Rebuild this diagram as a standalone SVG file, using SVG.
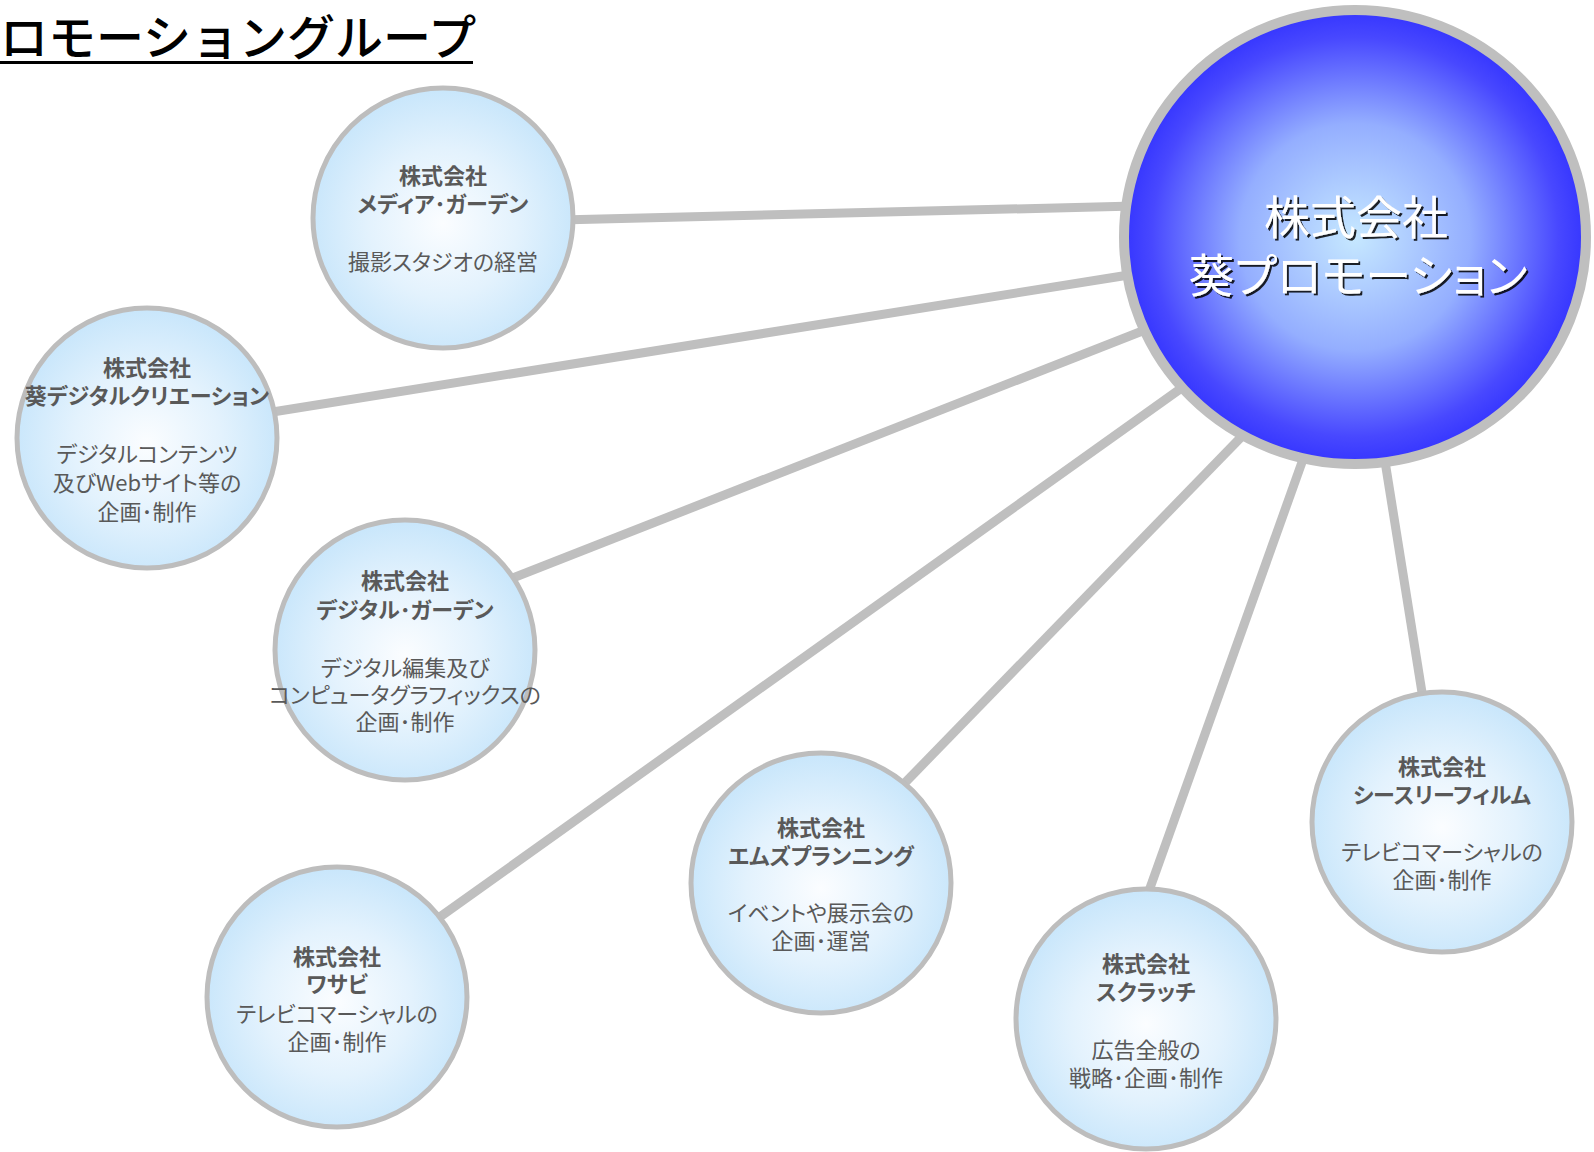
<svg xmlns="http://www.w3.org/2000/svg" width="1594" height="1152" viewBox="0 0 1594 1152">
<defs>
<radialGradient id="gMain" cx="50%" cy="50%" r="50%">
<stop offset="0" stop-color="#c6e8ff"/>
<stop offset="0.5" stop-color="#94aeff"/>
<stop offset="0.88" stop-color="#4848ff"/>
<stop offset="1" stop-color="#3535ff"/>
</radialGradient>
<radialGradient id="gSub" cx="50%" cy="52%" r="52%">
<stop offset="0" stop-color="#fbfdff"/>
<stop offset="0.55" stop-color="#e3f2fd"/>
<stop offset="1" stop-color="#c8e6fb"/>
</radialGradient>
<filter id="shadow" x="-10%" y="-20%" width="120%" height="140%">
<feDropShadow dx="2" dy="2" stdDeviation="0.6" flood-color="#000" flood-opacity="0.85"/>
</filter>
</defs>
<style>
.conn line{stroke:#bfbfbf;stroke-width:9;stroke-linecap:butt}
.sub{fill:url(#gSub);stroke:#bdbdbd;stroke-width:5}
.name{font-family:"Noto Sans CJK JP","Noto Sans",sans-serif;font-size:22px;font-weight:bold;fill:#595959;text-anchor:middle;font-feature-settings:"palt"}
.desc{font-family:"Noto Sans CJK JP","Noto Sans",sans-serif;font-size:22px;fill:#595959;text-anchor:middle;font-feature-settings:"palt"}
.main{font-family:"Noto Sans CJK JP","Noto Sans",sans-serif;font-size:46px;fill:#ffffff;text-anchor:middle;font-feature-settings:"palt"}
.title{font-family:"Noto Sans CJK JP","Noto Sans",sans-serif;font-size:48px;font-weight:500;fill:#000000}
</style>
<rect width="1594" height="1152" fill="#ffffff"/>
<g id="title">
<text class="title" x="0" y="55">ロモーショングループ</text>
<rect x="0" y="61" width="473" height="3" fill="#000"/>
</g>
<g id="connectors" class="conn">
<line x1="560" y1="220" x2="1135" y2="206"/>
<line x1="260" y1="414" x2="1135" y2="274"/>
<line x1="500" y1="583" x2="1150" y2="328"/>
<line x1="430" y1="924" x2="1190" y2="382"/>
<line x1="895" y1="793" x2="1250" y2="428"/>
<line x1="1145" y1="902" x2="1306" y2="451"/>
<line x1="1424" y1="705" x2="1384" y2="455"/>
</g>
<g id="main">
<ellipse cx="1355" cy="237" rx="231" ry="227" fill="url(#gMain)" stroke="#bfbfbf" stroke-width="10"/>
<g filter="url(#shadow)">
<text class="main" x="1356" y="234">株式会社</text>
<text class="main" x="1358" y="292">葵プロモーション</text>
</g>
</g>
<g id="n1">
<circle class="sub" cx="443" cy="218" r="130"/>
<text class="name" x="443" y="184">株式会社</text>
<text class="name" x="443" y="212">メディア･ガーデン</text>
<text class="desc" x="443" y="270">撮影スタジオの経営</text>
</g>
<g id="n2">
<circle class="sub" cx="147" cy="438" r="130"/>
<text class="name" x="147" y="376">株式会社</text>
<text class="name" x="147" y="404">葵デジタルクリエーション</text>
<text class="desc" x="147" y="462">デジタルコンテンツ</text>
<text class="desc" x="147" y="491">及びWebサイト等の</text>
<text class="desc" x="147" y="520">企画･制作</text>
</g>
<g id="n3">
<circle class="sub" cx="405" cy="650" r="130"/>
<text class="name" x="405" y="589">株式会社</text>
<text class="name" x="405" y="618">デジタル･ガーデン</text>
<text class="desc" x="405" y="676">デジタル編集及び</text>
<text class="desc" x="405" y="703">コンピュータグラフィックスの</text>
<text class="desc" x="405" y="730">企画･制作</text>
</g>
<g id="n4">
<circle class="sub" cx="337" cy="997" r="130"/>
<text class="name" x="337" y="965">株式会社</text>
<text class="name" x="337" y="992">ワサビ</text>
<text class="desc" x="337" y="1022">テレビコマーシャルの</text>
<text class="desc" x="337" y="1050">企画･制作</text>
</g>
<g id="n5">
<circle class="sub" cx="821" cy="883" r="130"/>
<text class="name" x="821" y="836">株式会社</text>
<text class="name" x="821" y="864">エムズプランニング</text>
<text class="desc" x="821" y="921">イベントや展示会の</text>
<text class="desc" x="821" y="949">企画･運営</text>
</g>
<g id="n6">
<circle class="sub" cx="1146" cy="1019" r="130"/>
<text class="name" x="1146" y="972">株式会社</text>
<text class="name" x="1146" y="1000">スクラッチ</text>
<text class="desc" x="1146" y="1058">広告全般の</text>
<text class="desc" x="1146" y="1086">戦略･企画･制作</text>
</g>
<g id="n7">
<circle class="sub" cx="1442" cy="822" r="130"/>
<text class="name" x="1442" y="775">株式会社</text>
<text class="name" x="1442" y="803">シースリーフィルム</text>
<text class="desc" x="1442" y="860">テレビコマーシャルの</text>
<text class="desc" x="1442" y="888">企画･制作</text>
</g>
</svg>
